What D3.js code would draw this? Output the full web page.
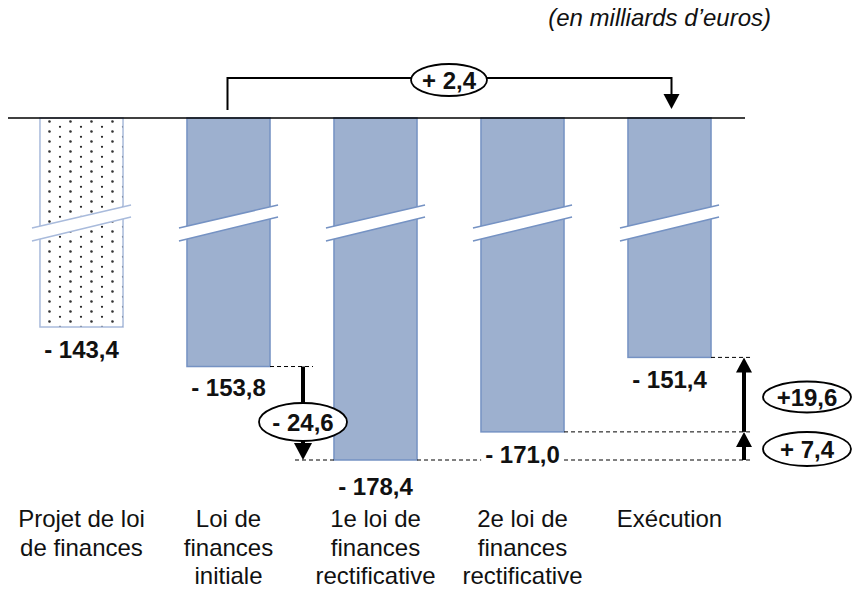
<!DOCTYPE html>
<html><head><meta charset="utf-8">
<script src="https://cdn.jsdelivr.net/npm/d3@7"></script>
<style>body{margin:0;background:#fff}svg{display:block}text{font-family:"Liberation Sans",Arial,sans-serif}</style>
</head><body><svg id="c" width="856" height="590"></svg>
<script>
const categories = [["Projet de loi","de finances"],["Loi de","finances","initiale"],["1e loi de","finances","rectificative"],["2e loi de","finances","rectificative"],["Exécution"]];
const values = [-143.4, -153.8, -178.4, -171.0, -151.4];
const valueLabels = ["- 143,4","- 153,8","- 178,4","- 171,0","- 151,4"];
const diffLabels = ["+ 2,4","- 24,6","+19,6","+ 7,4"];
const unitLabel = "(en milliards d’euros)";

const svg = d3.select("#c");
const x = d3.scaleBand().domain(d3.range(values.length)).range([8, 743]).paddingInner(0.435).paddingOuter(0.2175);
const y = d3.scaleLinear().domain([-88.4, -178.4]).range([118, 460]);
const bw = x.bandwidth();
const cx = i => x(i) + bw/2;

const defs = svg.append("defs");
const pat = defs.append("pattern").attr("id","dots").attr("patternUnits","userSpaceOnUse")
  .attr("width",21).attr("height",10).attr("x",49).attr("y",121);
pat.append("rect").attr("width",21).attr("height",10).attr("fill","#fff");
pat.append("circle").attr("cx",0.5).attr("cy",0.5).attr("r",1.3).attr("fill","#333");
pat.append("circle").attr("cx",21.5).attr("cy",0.5).attr("r",1.3).attr("fill","#333");
pat.append("circle").attr("cx",0.5).attr("cy",10.5).attr("r",1.3).attr("fill","#333");
pat.append("circle").attr("cx",21.5).attr("cy",10.5).attr("r",1.3).attr("fill","#333");
pat.append("circle").attr("cx",11).attr("cy",5.8).attr("r",1.1).attr("fill","#222");

// bars
svg.selectAll("rect.bar").data(values).join("rect").attr("class","bar")
  .attr("x",(d,i)=>x(i)).attr("y",y(-88.4)).attr("width",bw)
  .attr("height",d=>y(d)-y(-88.4))
  .attr("fill",(d,i)=>i===0?"url(#dots)":"#9db0cf")
  .attr("stroke",(d,i)=>i===0?"#a9bbdc":"#7592c3").attr("stroke-width",1.5);

// break marks
values.forEach((d,i)=>{
  const x0 = x(i)-8, x1 = x(i)+bw+8;
  const ya = 228, yb = 205;
  const g = svg.append("g");
  g.append("path").attr("d",`M${x0},${ya}L${x1},${yb}L${x1},${yb+12}L${x0},${ya+13}Z`).attr("fill","#fff");
  g.append("path").attr("d",`M${x0},${ya}L${x1},${yb}M${x0},${ya+13}L${x1},${yb+12}`)
    .attr("stroke",i===0?"#a9bbdc":"#7592c3").attr("stroke-width",1.5).attr("fill","none");
});

// baseline
svg.append("line").attr("x1",8).attr("x2",745).attr("y1",118).attr("y2",118).attr("stroke","#000").attr("stroke-width",1.5);

// dashed guides
const dash = (x1,x2,yy)=>svg.append("line").attr("x1",x1).attr("x2",x2).attr("y1",yy).attr("y2",yy)
  .attr("stroke","#000").attr("stroke-width",1).attr("stroke-dasharray","4,3");
dash(x(1)+bw, 313, y(values[1]));
dash(295, x(2), y(values[2]));
dash(x(2)+bw, 753, y(values[2]));
dash(x(3)+bw, 753, y(values[3]));
dash(x(4)+bw, 753, y(values[4]));

// value labels (with white background)
const labelY = [358, 396, 495, 463, 388];
const vg = svg.selectAll("g.val").data(valueLabels).join("g").attr("class","val");
vg.append("text")
  .attr("x",(d,i)=>cx(i)).attr("y",(d,i)=>labelY[i]).attr("text-anchor","middle")
  .attr("font-weight","bold").attr("font-size",24).attr("fill","#111").text(d=>d);
vg.each(function(){
  const g = d3.select(this), b = g.select("text").node().getBBox();
  g.insert("rect","text").attr("x",b.x-4).attr("y",b.y+3).attr("width",b.width+8).attr("height",b.height-6).attr("fill","#fff");
});

// category labels
categories.forEach((lines,i)=>{
  const t = svg.append("text").attr("text-anchor","middle").attr("font-size",24).attr("fill","#111");
  lines.forEach((l,j)=>t.append("tspan").attr("x",cx(i)).attr("y",527+j*28.5).text(l));
});

// unit label
svg.append("text").attr("x",771).attr("y",26).attr("text-anchor","end").attr("font-size",24).attr("font-style","italic").attr("fill","#111").text(unitLabel);

const arrowHead = (xx, tipY, dir, w, h)=>svg.append("path")
  .attr("d",`M${xx},${tipY}L${xx-w/2},${tipY-dir*h}L${xx+w/2},${tipY-dir*h}Z`).attr("fill","#000");

// top bracket
const xl = cx(1) - 1, xr = cx(4) + 2;
svg.append("path").attr("d",`M${xl},110V78H${xr}V95`).attr("fill","none").attr("stroke","#000").attr("stroke-width",2);
arrowHead(xr, 109, 1, 16, 15);
const ell = (ex,ey,rx,ry,label)=>{
  svg.append("ellipse").attr("cx",ex).attr("cy",ey).attr("rx",rx).attr("ry",ry).attr("fill","#fff").attr("stroke","#000").attr("stroke-width",1.8);
  svg.append("text").attr("x",ex).attr("y",ey+8.5).attr("text-anchor","middle").attr("font-weight","bold").attr("font-size",24).attr("fill","#111").text(label);
};
ell(449, 80, 38, 16, diffLabels[0]);

// -24,6 arrow
const ax = 303;
svg.append("line").attr("x1",ax).attr("x2",ax).attr("y1",y(values[1])).attr("y2",445).attr("stroke","#000").attr("stroke-width",4);
arrowHead(ax, y(values[2]), 1, 18, 17);
ell(ax, 422, 44, 19, diffLabels[1]);

// right arrows
const rx = 744;
svg.append("line").attr("x1",rx).attr("x2",rx).attr("y1",y(values[2])).attr("y2",446).attr("stroke","#000").attr("stroke-width",4);
arrowHead(rx, y(values[3]), -1, 16, 15);
svg.append("line").attr("x1",rx).attr("x2",rx).attr("y1",y(values[3])).attr("y2",372).attr("stroke","#000").attr("stroke-width",4);
arrowHead(rx, y(values[4]), -1, 16, 15);
ell(807, 397, 44, 15.5, diffLabels[2]);
ell(807, 449, 44, 17, diffLabels[3]);
</script></body></html>
